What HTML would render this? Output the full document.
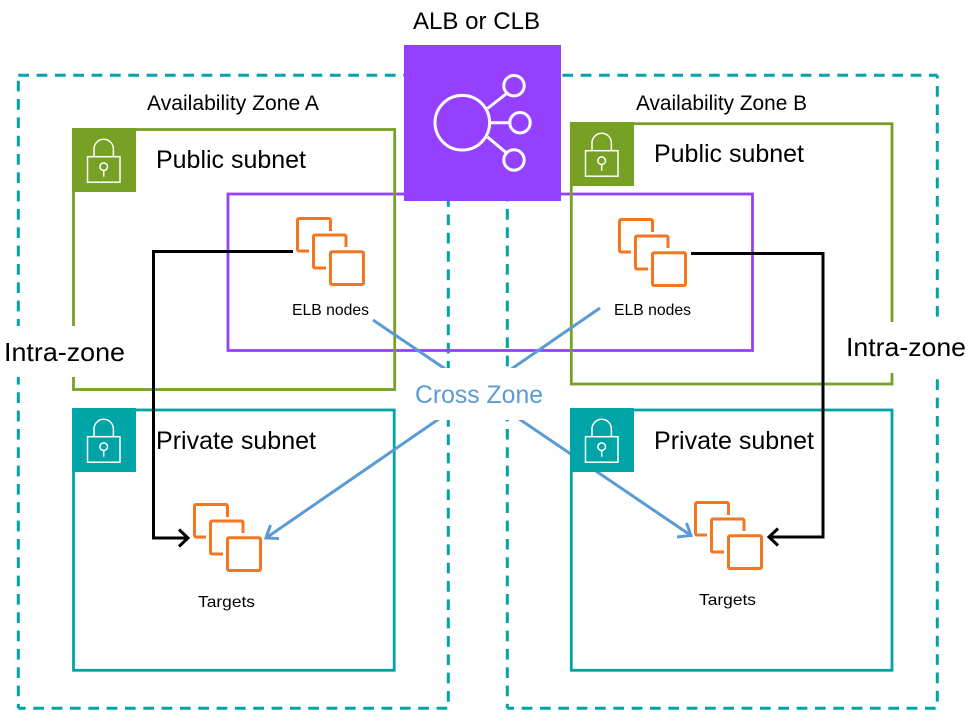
<!DOCTYPE html>
<html>
<head>
<meta charset="utf-8">
<style>
html,body{margin:0;padding:0;background:#fff}
svg{display:block}
text{font-family:"Liberation Sans",sans-serif;fill:#000}
</style>
</head>
<body>
<svg width="968" height="728" viewBox="0 0 968 728" xmlns="http://www.w3.org/2000/svg">
<defs>
<g id="lock" fill="none" stroke="#fff" stroke-width="1.5">
<rect x="15.5" y="28.7" width="32.5" height="25.5"/>
<path d="M22 28.7V21a9.7 9.7 0 0 1 19.4 0V28.7"/>
<circle cx="31.7" cy="38.7" r="3.8"/>
<path d="M31.7 42.5V48.7"/>
</g>
<g id="stack" fill="none" stroke="#F5761F" stroke-width="3" stroke-linejoin="round">
<path d="M330.5 231V220a1.5 1.5 0 0 0-1.5-1.5H299a1.5 1.5 0 0 0-1.5 1.5V249.500a1.500 1.500 0 0 0 1.500 1.500H309"/>
<path d="M346 247V236.500a1.500 1.500 0 0 0-1.500-1.500H315a1.500 1.500 0 0 0-1.500 1.500V266.500a1.500 1.500 0 0 0 1.500 1.500H326"/>
<rect x="330.500" y="251.800" width="33" height="32.700" rx="1.500"/>
</g>
</defs>

<rect width="968" height="728" fill="#fff"/>

<!-- availability zones -->
<g fill="none" stroke="#01A4A6" stroke-width="3" stroke-dasharray="10.700 7.630">
<path d="M18.300 75.300H448.300"/>
<path d="M18.300 75.300V708.300" stroke-dashoffset="12.930"/>
<path d="M18.300 708.300H448.300" stroke-dashoffset="3.330"/>
<path d="M448.300 75.300V708.300" stroke-dashoffset="7.520"/>
<path d="M507.300 75.300H937.300" stroke-dashoffset="18.230"/>
<path d="M507.300 75.300V708.300" stroke-dashoffset="12.930"/>
<path d="M507.300 708.300H937.300" stroke-dashoffset="3.930"/>
<path d="M937.300 75.300V708.300" stroke-dashoffset="7.630"/>
</g>

<!-- ELB purple frame -->
<rect x="228" y="194" width="524.500" height="156.500" fill="none" stroke="#9640FF" stroke-width="2.800"/>

<!-- subnets -->
<g fill="none" stroke-width="2.800">
<rect x="73.500" y="129.500" width="321.200" height="260" stroke="#77A125"/>
<rect x="571.300" y="123.700" width="320.700" height="260.300" stroke="#77A125"/>
<rect x="73.500" y="410" width="320.700" height="260.300" stroke="#01A4A6"/>
<rect x="571.300" y="410" width="320.700" height="260.300" stroke="#01A4A6"/>
</g>

<!-- cross-zone arrows -->
<g fill="none" stroke="#5B9BD5" stroke-width="3">
<path d="M373 320L691 535.500"/>
<path d="M677 537L691 535.500L686.500 523"/>
<path d="M600 308L266 538"/>
<path d="M270.500 525L266 538L279 538.500"/>
</g>

<!-- label masks -->
<rect x="0" y="326" width="130" height="51" fill="#fff"/>
<rect x="846" y="322" width="122" height="51" fill="#fff"/>
<rect x="397" y="368" width="172" height="52" fill="#fff"/>

<!-- intra-zone arrows -->
<g fill="none" stroke="#000" stroke-width="3">
<path d="M293 251.500H153.500V538H188"/>
<path d="M179 529.500L188 538L179 546.500"/>
<path d="M691 253.500H823V537H769"/>
<path d="M778 528.500L769 537L778 545.500"/>
</g>

<!-- subnet badges -->
<rect x="72" y="128" width="64" height="64" fill="#77A125"/>
<rect x="570" y="122" width="64" height="64" fill="#77A125"/>
<rect x="72" y="408" width="64" height="64" fill="#01A4A6"/>
<rect x="570" y="408" width="64" height="64" fill="#01A4A6"/>
<use href="#lock" x="72" y="128"/>
<use href="#lock" x="570" y="122"/>
<use href="#lock" x="72" y="408"/>
<use href="#lock" x="570" y="408"/>

<!-- instance stacks -->
<use href="#stack"/>
<use href="#stack" x="322" y="1"/>
<use href="#stack" x="-103" y="286"/>
<use href="#stack" x="398" y="284"/>

<!-- load balancer -->
<rect x="404" y="45" width="157" height="156" fill="#9640FF"/>
<g fill="none" stroke="#fff" stroke-width="3">
<circle cx="462.300" cy="122.700" r="27.300"/>
<circle cx="514" cy="85.700" r="10.200"/>
<circle cx="520" cy="122.700" r="10.200"/>
<circle cx="514" cy="160" r="10.200"/>
<path d="M487.500 108.500L506.700 93.500"/>
<path d="M490 122.700H509.500"/>
<path d="M487.500 137L506.500 153"/>
</g>

<!-- labels -->
<text x="413" y="29" font-size="24" textLength="127" lengthAdjust="spacingAndGlyphs">ALB or CLB</text>
<text x="147" y="110" font-size="21" textLength="172" lengthAdjust="spacingAndGlyphs">Availability Zone A</text>
<text x="636" y="110" font-size="21" textLength="171" lengthAdjust="spacingAndGlyphs">Availability Zone B</text>
<text x="156" y="168" font-size="25" textLength="150" lengthAdjust="spacingAndGlyphs">Public subnet</text>
<text x="654" y="162" font-size="25" textLength="150" lengthAdjust="spacingAndGlyphs">Public subnet</text>
<text x="156" y="449" font-size="25" textLength="160" lengthAdjust="spacingAndGlyphs">Private subnet</text>
<text x="654" y="449" font-size="25" textLength="160" lengthAdjust="spacingAndGlyphs">Private subnet</text>
<text x="292" y="315" font-size="16" textLength="77" lengthAdjust="spacingAndGlyphs">ELB nodes</text>
<text x="614" y="315" font-size="16" textLength="77" lengthAdjust="spacingAndGlyphs">ELB nodes</text>
<text x="198" y="607" font-size="16" textLength="57" lengthAdjust="spacingAndGlyphs">Targets</text>
<text x="699" y="605" font-size="16" textLength="57" lengthAdjust="spacingAndGlyphs">Targets</text>
<text x="4" y="361" font-size="26" textLength="121" lengthAdjust="spacingAndGlyphs">Intra-zone</text>
<text x="846" y="356" font-size="26" textLength="120" lengthAdjust="spacingAndGlyphs">Intra-zone</text>
<text x="415" y="403" font-size="25" textLength="128" lengthAdjust="spacingAndGlyphs" style="fill:#5B9BD5">Cross Zone</text>
</svg>
</body>
</html>
